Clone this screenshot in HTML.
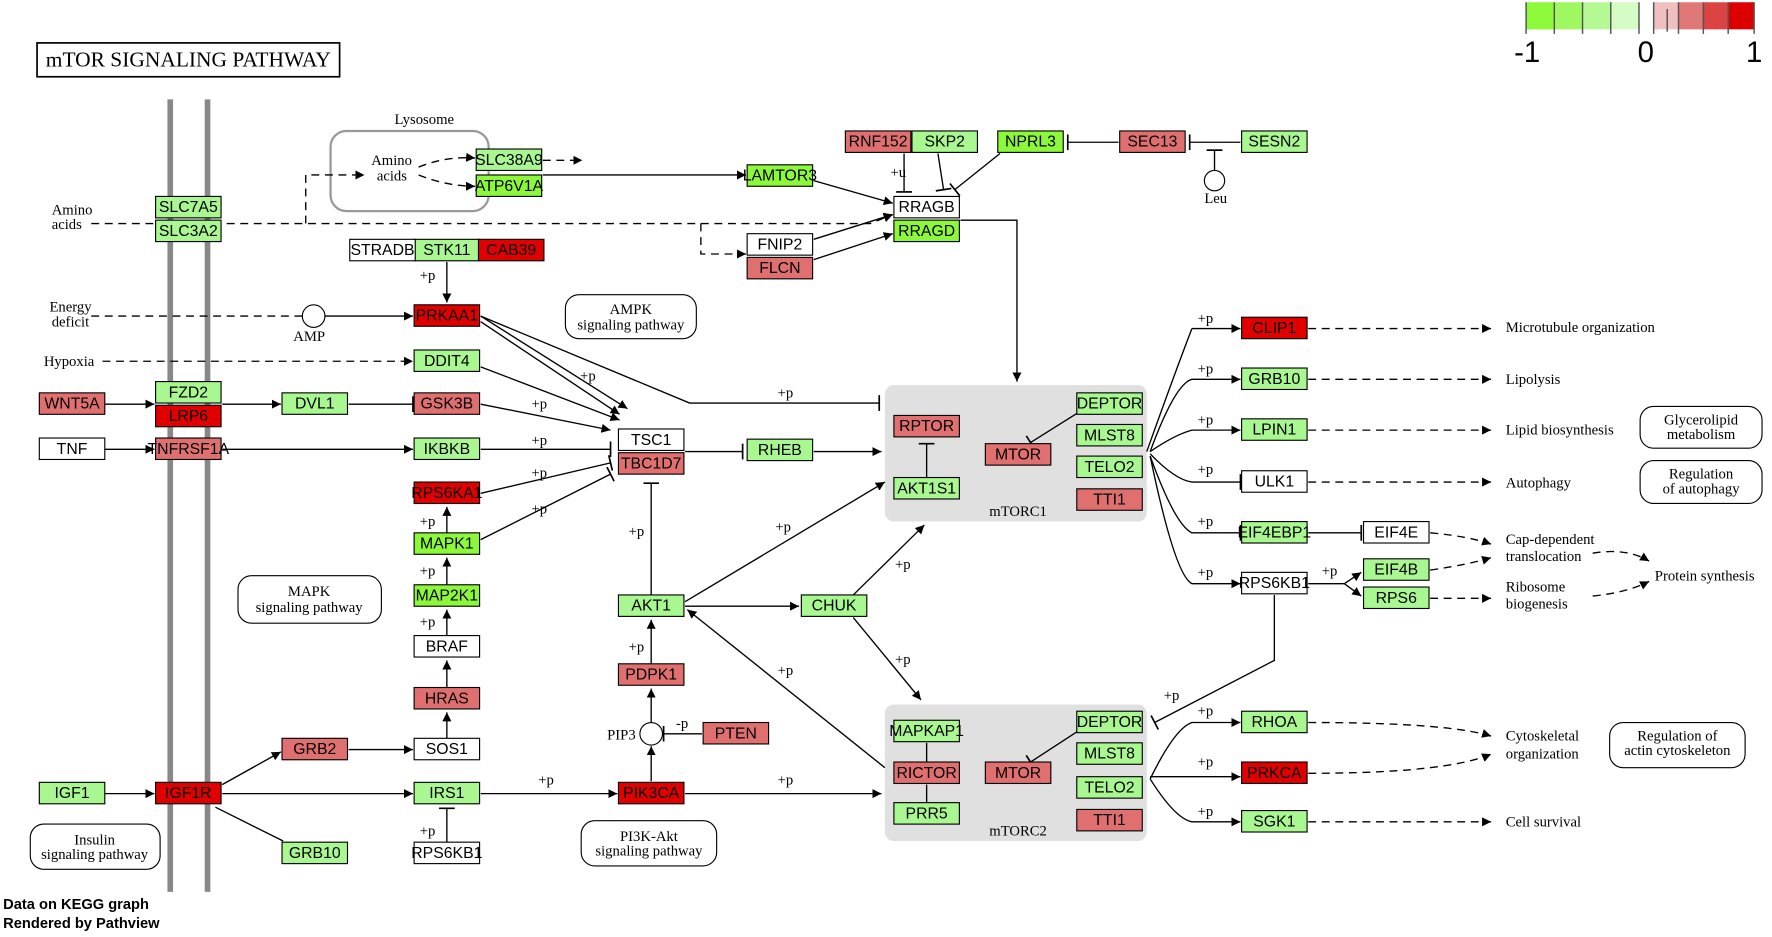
<!DOCTYPE html>
<html><head><meta charset="utf-8"><style>
html,body{margin:0;padding:0;background:#fff;}
svg{display:block}
.n{stroke:#000;stroke-width:1}
.t{font-family:"Liberation Sans",sans-serif;font-size:14px;text-anchor:middle;dominant-baseline:central}
.s{font-family:"Liberation Serif",serif;font-size:13px}
.e{stroke:#000;stroke-width:1.2;fill:none}
.d{stroke-dasharray:7,5}
.a{marker-end:url(#ar)}
.b{marker-end:url(#tb)}
</style></head><body>
<svg width="1772" height="937" viewBox="0 0 1568 830" xmlns="http://www.w3.org/2000/svg">
<defs>
<marker id="ar" viewBox="0 0 10 10" refX="10" refY="5" markerWidth="8" markerHeight="8" orient="auto" markerUnits="userSpaceOnUse"><path d="M0,0 L10,5 L0,10z" fill="#000"/></marker>
<marker id="tb" viewBox="0 0 4 14" refX="2" refY="7" markerWidth="4" markerHeight="14" orient="auto" markerUnits="userSpaceOnUse"><path d="M2,0 V14" stroke="#000" stroke-width="1.5"/></marker>
</defs>
<rect width="1568" height="830" fill="#fff"/>
<!-- legend -->
<rect x="1351" y="2" width="25" height="24" fill="#8cf93a"/><rect x="1376" y="2" width="25" height="24" fill="#a0f860"/><rect x="1401" y="2" width="25" height="24" fill="#b4f994"/><rect x="1426" y="2" width="25" height="24" fill="#d4fcc4"/>
<rect x="1464" y="2" width="22" height="24" fill="#f0c0c0"/><rect x="1486" y="2" width="22" height="24" fill="#e07878"/><rect x="1508" y="2" width="22" height="24" fill="#dc4444"/><rect x="1530" y="2" width="23" height="24" fill="#dc0000"/>
<g stroke="#555" stroke-width="1.3"><path d="M1351,2V30M1376,2V30M1401,2V30M1426,2V30M1451,2V30M1464,2V30M1486,2V30M1508,2V30M1530,2V30M1553,2V30M1476,8V28"/></g>
<g font-family="Liberation Sans,sans-serif" font-size="26" text-anchor="middle"><text x="1352" y="55">-1</text><text x="1457" y="55">0</text><text x="1553" y="55">1</text></g>
<!-- title -->
<rect x="32" y="38" width="268" height="30" fill="#fff" stroke="#000" stroke-width="1.5"/>
<text x="166" y="59" style="font-family:'Liberation Serif',serif;font-size:19px" text-anchor="middle">mTOR SIGNALING PATHWAY</text>
<!-- membrane -->
<path d="M150,88V790M183,88V790" stroke="#888" stroke-width="5"/>
<!-- groups -->
<rect x="292" y="116" width="140" height="71" rx="14" fill="none" stroke="#999" stroke-width="2"/>
<text x="375" y="110" class="s" text-anchor="middle">Lysosome</text>
<rect x="783" y="341" width="232" height="121" rx="8" fill="#e0e0e0"/>
<rect x="783" y="624" width="232" height="121" rx="8" fill="#e0e0e0"/>
<text x="901" y="457" class="s" text-anchor="middle">mTORC1</text>
<text x="901" y="740" class="s" text-anchor="middle">mTORC2</text>
<!-- pathway boxes -->
<g fill="#fff" stroke="#000"><rect x="500" y="261" width="116" height="39" rx="12"/><rect x="210" y="510" width="127" height="42" rx="12"/><rect x="26" y="730" width="115" height="40" rx="12"/><rect x="514" y="727" width="120" height="40" rx="12"/><rect x="1452" y="360" width="108" height="37" rx="12"/><rect x="1452" y="408" width="108" height="38" rx="12"/><rect x="1425" y="640" width="120" height="40" rx="12"/></g>
<g class="s" text-anchor="middle">
<text x="558" y="278">AMPK</text><text x="558" y="292">signaling pathway</text>
<text x="273" y="528">MAPK</text><text x="273" y="542">signaling pathway</text>
<text x="83" y="748">Insulin</text><text x="83" y="761">signaling pathway</text>
<text x="574" y="745">PI3K-Akt</text><text x="574" y="758">signaling pathway</text>
<text x="1506" y="376">Glycerolipid</text><text x="1506" y="389">metabolism</text>
<text x="1506" y="424">Regulation</text><text x="1506" y="437">of autophagy</text>
<text x="1485" y="656">Regulation of</text><text x="1485" y="669">actin cytoskeleton</text>
</g>
<!-- edges -->
<g class="e">
<path class="d a" d="M80,198H770L790,190"/>
<path class="d a" d="M620,198V225H660"/>
<path class="d a" d="M270,198V155H322"/>
<path class="d a" d="M370,148Q395,138 420,140"/>
<path class="d a" d="M370,155Q395,165 420,165"/>
<path class="d a" d="M480,142H515"/>
<path class="a" d="M480,155H660"/>
<path class="a" d="M720,160L790,180"/>
<path class="b" d="M800,136V170"/>
<path class="b" d="M830,136L835,168"/>
<path class="b" d="M885,136L845,168"/>
<path class="b" d="M990,126H945"/>
<path class="b" d="M1098,126H1053"/>
<path class="b" d="M1075,151V133"/>
<path class="a" d="M720,230L790,207"/>
<path class="a" d="M720,212L790,190"/>
<path class="a" d="M850,195H900V338"/>
<path class="a" d="M395,232V268"/>
<path class="d" d="M80,280H267"/>
<path class="a" d="M287,280H365"/>
<path class="d a" d="M90,320H365"/>
<path class="a" d="M425,280L555,362"/>
<path class="a" d="M425,285L548,367"/>
<path class="b" d="M425,280L610,357H778"/>
<path class="a" d="M425,325L548,372"/>
<path class="a" d="M425,358L540,381"/>
<path class="b" d="M425,398H540"/>
<path class="b" d="M425,437L540,410"/>
<path class="b" d="M425,478L540,420"/>
<path class="b" d="M606,400H657"/>
<path class="a" d="M720,400H780"/>
<path class="b" d="M576,527V428"/>
<path class="a" d="M606,533L783,427"/>
<path class="a" d="M606,537H707"/>
<path class="a" d="M755,527L818,465"/>
<path class="a" d="M755,547L815,620"/>
<path class="a" d="M783,680L608,540"/>
<path class="a" d="M576,588V549"/>
<path class="a" d="M576,640V610"/>
<path class="b" d="M621,650H587"/>
<path class="a" d="M576,692V661"/>
<path class="a" d="M425,703H546"/>
<path class="a" d="M606,703H780"/>
<path class="a" d="M92,703H136"/>
<path class="a" d="M196,703H365"/>
<path class="a" d="M196,695L248,666"/>
<path class="a" d="M308,664H365"/>
<path class="a" d="M395,654V631"/>
<path class="a" d="M395,609V585"/>
<path class="a" d="M395,563V540"/>
<path class="a" d="M395,518V494"/>
<path class="a" d="M395,472V449"/>
<path class="b" d="M395,746V716"/>
<path d="M190,715L250,745"/>
<path class="a" d="M92,358H136"/>
<path class="a" d="M196,358H248"/>
<path class="b" d="M308,358H365"/>
<path class="a" d="M92,398H136"/>
<path class="a" d="M196,398H365"/>
<path class="b" d="M820,423V393"/>
<path class="b" d="M955,365L912,392"/>
<path class="b" d="M955,647L912,675"/>
<path d="M820,658V675M820,695V711"/>
<path d="M1015,400Q1040,330 1055,291"/>
<path class="a" d="M1055,291H1098"/>
<path class="a" d="M1018,400Q1040,340 1055,336H1098"/>
<path class="a" d="M1018,400Q1040,385 1055,381H1098"/>
<path class="b" d="M1018,402Q1040,425 1055,427H1098"/>
<path class="b" d="M1018,404Q1040,465 1055,472H1098"/>
<path class="a" d="M1018,404Q1040,510 1055,517H1098"/>
<path class="b" d="M1158,472H1205"/>
<path class="a" d="M1158,517H1190L1205,507"/>
<path class="a" d="M1190,517L1205,528"/>
<path class="b" d="M1128,527V585L1022,640"/>
<path class="a" d="M1018,690Q1040,645 1055,640H1098"/>
<path class="a" d="M1018,688H1098"/>
<path class="a" d="M1018,690Q1040,725 1055,728H1098"/>
<path class="d a" d="M1158,291H1320"/>
<path class="d a" d="M1158,336H1320"/>
<path class="d a" d="M1158,381H1320"/>
<path class="d a" d="M1158,427H1320"/>
<path class="d a" d="M1266,472Q1300,475 1320,482"/>
<path class="d a" d="M1266,505Q1300,500 1320,494"/>
<path class="d a" d="M1266,530H1320"/>
<path class="d a" d="M1410,490Q1440,485 1460,497"/>
<path class="d a" d="M1410,528Q1440,525 1460,515"/>
<path class="d a" d="M1158,640Q1280,640 1320,652"/>
<path class="d a" d="M1158,685Q1280,685 1320,668"/>
<path class="d a" d="M1158,728H1320"/>
</g>
<circle cx="277" cy="280" r="10" fill="#fff" stroke="#000"/>
<circle cx="576" cy="650" r="10" fill="#fff" stroke="#000"/>
<circle cx="1075" cy="160" r="9" fill="#fff" stroke="#000"/>
<!-- edge labels -->
<g class="s">
<text x="371" y="248">+p</text><text x="513" y="337">+p</text><text x="688" y="352">+p</text><text x="470" y="362">+p</text><text x="470" y="394">+p</text><text x="470" y="423">+p</text><text x="470" y="455">+p</text>
<text x="371" y="466">+p</text><text x="371" y="510">+p</text><text x="371" y="555">+p</text><text x="371" y="740">+p</text>
<text x="556" y="475">+p</text><text x="556" y="577">+p</text><text x="686" y="471">+p</text><text x="688" y="598">+p</text><text x="792" y="504">+p</text><text x="792" y="588">+p</text>
<text x="598" y="645">-p</text><text x="476" y="695">+p</text><text x="688" y="695">+p</text><text x="788" y="157">+u</text>
<text x="1060" y="286">+p</text><text x="1060" y="331">+p</text><text x="1060" y="376">+p</text><text x="1060" y="420">+p</text><text x="1060" y="466">+p</text><text x="1060" y="511">+p</text><text x="1170" y="510">+p</text><text x="1030" y="620">+p</text>
<text x="1060" y="634">+p</text><text x="1060" y="679">+p</text><text x="1060" y="723">+p</text>
<text x="45" y="190">Amino</text><text x="45" y="203">acids</text><text x="43" y="276">Energy</text><text x="45" y="289">deficit</text><text x="38" y="324">Hypoxia</text>
<text x="259" y="302">AMP</text><text x="537" y="655">PIP3</text><text x="1066" y="180">Leu</text>
<text x="328" y="146">Amino</text><text x="333" y="160">acids</text>
<text x="1333" y="294">Microtubule organization</text><text x="1333" y="340">Lipolysis</text><text x="1333" y="385">Lipid biosynthesis</text><text x="1333" y="432">Autophagy</text>
<text x="1333" y="482">Cap-dependent</text><text x="1333" y="497">translocation</text><text x="1333" y="524">Ribosome</text><text x="1333" y="539">biogenesis</text><text x="1465" y="514">Protein synthesis</text>
<text x="1333" y="656">Cytoskeletal</text><text x="1333" y="672">organization</text><text x="1333" y="732">Cell survival</text>
</g>
<!-- nodes -->
<g class="t">
<g fill="#a8f790" class="n">
<rect x="137" y="174" width="58" height="19"/><rect x="137" y="195" width="58" height="19"/><rect x="421" y="132" width="58" height="19"/>
<rect x="807" y="116" width="58" height="19"/><rect x="1099" y="116" width="58" height="19"/>
<rect x="366" y="212" width="58" height="19"/><rect x="366" y="310" width="58" height="19"/><rect x="137" y="338" width="58" height="19"/>
<rect x="249" y="348" width="58" height="19"/><rect x="366" y="388" width="58" height="19"/><rect x="661" y="389" width="58" height="19"/>
<rect x="547" y="527" width="58" height="19"/><rect x="709" y="527" width="58" height="19"/><rect x="34" y="693" width="58" height="19"/>
<rect x="366" y="693" width="58" height="19"/><rect x="249" y="746" width="58" height="19"/>
<rect x="791" y="423" width="58" height="19"/><rect x="953" y="348" width="58" height="19"/><rect x="953" y="376" width="58" height="19"/><rect x="953" y="404" width="58" height="19"/>
<rect x="791" y="638" width="58" height="19"/><rect x="791" y="711" width="58" height="19"/><rect x="953" y="630" width="58" height="19"/><rect x="953" y="658" width="58" height="19"/><rect x="953" y="688" width="58" height="19"/>
<rect x="1099" y="326" width="58" height="19"/><rect x="1099" y="371" width="58" height="19"/><rect x="1099" y="462" width="58" height="19"/><rect x="1207" y="495" width="58" height="19"/><rect x="1207" y="520" width="58" height="19"/>
<rect x="1099" y="630" width="58" height="19"/><rect x="1099" y="718" width="58" height="19"/>
</g>
<g fill="#8cf83c" class="n">
<rect x="421" y="155" width="58" height="19"/><rect x="661" y="146" width="58" height="19"/><rect x="883" y="116" width="58" height="19"/><rect x="791" y="195" width="58" height="19"/>
<rect x="366" y="472" width="58" height="19"/><rect x="366" y="518" width="58" height="19"/>
</g>
<g fill="#e07070" class="n">
<rect x="748" y="116" width="58" height="19"/><rect x="991" y="116" width="58" height="19"/><rect x="661" y="228" width="58" height="19"/>
<rect x="34" y="348" width="58" height="19"/><rect x="366" y="348" width="58" height="19"/><rect x="137" y="388" width="58" height="19"/><rect x="547" y="401" width="58" height="19"/>
<rect x="366" y="609" width="58" height="19"/><rect x="547" y="588" width="58" height="19"/><rect x="622" y="640" width="58" height="19"/><rect x="249" y="654" width="58" height="19"/>
<rect x="791" y="368" width="58" height="19"/><rect x="872" y="393" width="58" height="19"/><rect x="953" y="433" width="58" height="19"/>
<rect x="791" y="675" width="58" height="19"/><rect x="872" y="675" width="58" height="19"/><rect x="953" y="717" width="58" height="19"/>
</g>
<g fill="#e00000" class="n">
<rect x="423" y="212" width="58" height="19"/><rect x="366" y="270" width="58" height="19"/><rect x="137" y="359" width="58" height="19"/><rect x="366" y="427" width="58" height="19"/>
<rect x="137" y="693" width="58" height="19"/><rect x="547" y="693" width="58" height="19"/><rect x="1099" y="281" width="58" height="19"/><rect x="1099" y="675" width="58" height="19"/>
</g>
<g fill="#fff" class="n">
<rect x="791" y="174" width="58" height="19"/><rect x="661" y="207" width="58" height="19"/><rect x="309" y="212" width="58" height="19"/><rect x="34" y="388" width="58" height="19"/>
<rect x="547" y="380" width="58" height="19"/><rect x="366" y="563" width="58" height="19"/><rect x="366" y="654" width="58" height="19"/><rect x="366" y="746" width="58" height="19"/>
<rect x="1099" y="417" width="58" height="19"/><rect x="1207" y="462" width="58" height="19"/><rect x="1099" y="507" width="58" height="19"/>
</g>
<text x="166" y="184">SLC7A5</text><text x="166" y="205">SLC3A2</text><text x="450" y="142">SLC38A9</text><text x="450" y="165">ATP6V1A</text><text x="690" y="156">LAMTOR3</text>
<text x="777" y="126">RNF152</text><text x="836" y="126">SKP2</text><text x="912" y="126">NPRL3</text><text x="1020" y="126">SEC13</text><text x="1128" y="126">SESN2</text>
<text x="820" y="184">RRAGB</text><text x="820" y="205">RRAGD</text><text x="690" y="217">FNIP2</text><text x="690" y="238">FLCN</text>
<text x="338" y="222">STRADB</text><text x="395" y="222">STK11</text><text x="452" y="222">CAB39</text><text x="395" y="280">PRKAA1</text><text x="395" y="320">DDIT4</text>
<text x="166" y="348">FZD2</text><text x="166" y="369">LRP6</text><text x="63" y="358">WNT5A</text><text x="278" y="358">DVL1</text><text x="395" y="358">GSK3B</text>
<text x="63" y="398">TNF</text><text x="166" y="398">TNFRSF1A</text><text x="395" y="398">IKBKB</text><text x="576" y="390">TSC1</text><text x="576" y="411">TBC1D7</text><text x="690" y="399">RHEB</text>
<text x="395" y="437">RPS6KA1</text><text x="395" y="482">MAPK1</text><text x="395" y="528">MAP2K1</text><text x="395" y="573">BRAF</text><text x="395" y="619">HRAS</text><text x="395" y="664">SOS1</text>
<text x="576" y="537">AKT1</text><text x="738" y="537">CHUK</text><text x="576" y="598">PDPK1</text><text x="651" y="650">PTEN</text><text x="576" y="703">PIK3CA</text>
<text x="278" y="664">GRB2</text><text x="63" y="703">IGF1</text><text x="166" y="703">IGF1R</text><text x="395" y="703">IRS1</text><text x="395" y="756">RPS6KB1</text><text x="278" y="756">GRB10</text>
<text x="820" y="378">RPTOR</text><text x="820" y="433">AKT1S1</text><text x="901" y="403">MTOR</text><text x="982" y="358">DEPTOR</text><text x="982" y="386">MLST8</text><text x="982" y="414">TELO2</text><text x="982" y="443">TTI1</text>
<text x="820" y="648">MAPKAP1</text><text x="820" y="685">RICTOR</text><text x="820" y="721">PRR5</text><text x="901" y="685">MTOR</text><text x="982" y="640">DEPTOR</text><text x="982" y="668">MLST8</text><text x="982" y="698">TELO2</text><text x="982" y="727">TTI1</text>
<text x="1128" y="291">CLIP1</text><text x="1128" y="336">GRB10</text><text x="1128" y="381">LPIN1</text><text x="1128" y="427">ULK1</text><text x="1128" y="472">EIF4EBP1</text><text x="1236" y="472">EIF4E</text>
<text x="1128" y="517">RPS6KB1</text><text x="1236" y="505">EIF4B</text><text x="1236" y="530">RPS6</text>
<text x="1128" y="640">RHOA</text><text x="1128" y="685">PRKCA</text><text x="1128" y="728">SGK1</text>
</g>
<g font-family="Liberation Sans,sans-serif" font-size="13" font-weight="bold"><text x="2" y="805">Data on KEGG graph</text><text x="2" y="822">Rendered by Pathview</text></g>
</svg>
</body></html>
